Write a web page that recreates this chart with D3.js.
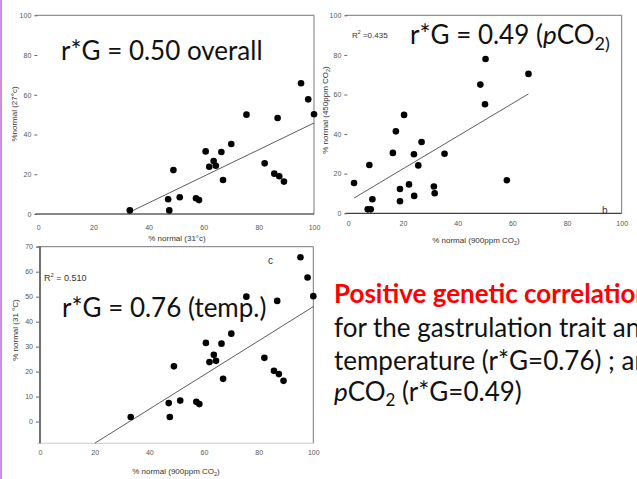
<!DOCTYPE html>
<html>
<head>
<meta charset="utf-8">
<script src="https://cdn.jsdelivr.net/npm/d3@7"></script>
<style>
  body { margin: 0; background: #fff; }
  svg { display: block; }
  .tick text { font-family: "Liberation Sans", Arial, sans-serif; font-size: 7px; fill: #555; }
  .title { font-family: "Liberation Sans", Arial, sans-serif; font-size: 8px; fill: #333; }
  .big { font-family: Lato, "Open Sans", sans-serif; fill: #111; }
</style>
</head>
<body>
<div id="chart"></div>
<script>
// % normal at 31°C vs 27°C (panel a) — same families reused in panel c
var temp31 = [33.2, 47.1, 47.5, 49.0, 51.3, 57.2, 58.3, 60.7, 62.0, 63.6, 64.4, 66.4,
              67.0, 70.0, 75.5, 82.1, 85.6, 86.8, 87.4, 89.1, 95.3, 97.9, 100];
var temp27 = [1.8, 7.4, 1.8, 22.1, 8.4, 7.9, 7.0, 31.5, 23.8, 26.7, 24.3, 31.2,
              17.1, 35.2, 50.0, 25.5, 20.3, 48.3, 19.0, 16.3, 65.8, 57.7, 50.2];

// % normal at 900ppm vs 450ppm CO2 (panel b)
var co2High = [2.1, 7.7, 7.1, 8.2, 8.8, 16.3, 17.4, 18.9, 18.9, 20.4, 22.2, 24.0,
               24.1, 25.6, 26.8, 31.3, 31.6, 35.2, 48.3, 50.2, 50.0, 58.0, 65.9];
var co2Low  = [15.3, 24.4, 2.0, 2.0, 7.1, 30.5, 41.4, 12.3, 6.1, 49.7, 14.6, 29.8,
               8.8, 24.2, 36.0, 13.5, 10.1, 30.1, 65.0, 77.9, 55.1, 16.7, 70.4];

// regression lines (end points)
var fitAX = [33.2, 100], fitAY = [1.0, 45.8];
var fitBX = [2.1, 65.9], fitBY = [7.7, 60.3];
var fitCX = [20, 100],   fitCY = [-8.7, 46];

var ticks100 = [0, 20, 40, 60, 80, 100];
var ticks70 = [0, 10, 20, 30, 40, 50, 60, 70];

var svg = d3.select("#chart").append("svg")
  .attr("width", 637)
  .attr("height", 479);

// pink slide edge
svg.append("line")
  .attr("x1", 1).attr("x2", 1).attr("y1", 0).attr("y2", 479)
  .attr("stroke", "#cf8fe0").attr("stroke-width", 2);

function drawPanel(p) {
  var x = d3.scaleLinear().domain(p.xDomain).range([p.left, p.right]);
  var y = d3.scaleLinear().domain(p.yDomain).range([p.bottom, p.top]);
  var g = svg.append("g");

  // frame: top + right gray
  g.append("line")
    .attr("x1", p.left - 3).attr("x2", p.right).attr("y1", p.top).attr("y2", p.top)
    .attr("stroke", "#777").attr("stroke-width", 1);
  g.append("line")
    .attr("x1", p.right).attr("x2", p.right).attr("y1", p.top).attr("y2", p.bottom)
    .attr("stroke", "#777").attr("stroke-width", 1);
  g.append("line")
    .attr("x1", p.left - 3).attr("x2", p.right).attr("y1", p.bottom).attr("y2", p.bottom)
    .attr("stroke", p.bottomColor).attr("stroke-width", 1);
  if (p.leftLine) {
    g.append("line")
      .attr("x1", p.left).attr("x2", p.left).attr("y1", p.top).attr("y2", p.bottom)
      .attr("stroke", "#111").attr("stroke-width", 1.2);
  }

  var yAxis = g.append("g")
    .attr("transform", "translate(" + (p.left - 1) + ",0)")
    .call(d3.axisLeft(y).tickValues(p.yTicks).tickSize(3).tickPadding(3));
  yAxis.select(".domain").remove();
  yAxis.selectAll(".tick line").attr("stroke", "#666");

  var xAxis = g.append("g")
    .attr("transform", "translate(0," + p.bottom + ")")
    .call(d3.axisBottom(x).tickValues(ticks100).tickSize(0).tickPadding(p.xPad));
  xAxis.select(".domain").remove();

  // axis titles
  var xt = g.append("text").attr("class", "title")
    .attr("x", p.xTitlePos[0]).attr("y", p.xTitlePos[1])
    .attr("text-anchor", "middle");
  addTitle(xt, p.xTitle);
  var yt = g.append("text").attr("class", "title")
    .attr("transform", "translate(" + p.yTitlePos[0] + "," + p.yTitlePos[1] + ") rotate(-90)")
    .attr("text-anchor", "middle");
  addTitle(yt, p.yTitle);

  // regression line
  var fit = p.fitX.map(function(v, i) { return [v, p.fitY[i]]; });
  g.append("path")
    .datum(fit)
    .attr("d", d3.line().x(function(d) { return x(d[0]); }).y(function(d) { return y(d[1]); }))
    .attr("stroke", "#333").attr("stroke-width", 0.8).attr("fill", "none");

  g.selectAll("circle.pt")
    .data(p.xs)
    .enter()
    .append("circle")
      .attr("class", "pt")
      .attr("cx", function(d) { return x(d); })
      .attr("cy", function(d, i) { return y(p.ys[i]); })
      .attr("r", 3.3)
      .attr("fill", "#000");
}

// title pieces: [text, sub?]
function addTitle(sel, parts) {
  parts.forEach(function(part) {
    var t = sel.append("tspan").text(part[0]);
    if (part[1] === "sub") t.attr("font-size", "5.5px").attr("dy", 2);
    if (part[1] === "back") t.attr("dy", -2);
  });
}

drawPanel({
  xs: temp31, ys: temp27, fitX: fitAX, fitY: fitAY,
  xDomain: [0, 100], yDomain: [0, 100], yTicks: ticks100,
  left: 38.3, right: 314, top: 15.3, bottom: 214,
  bottomColor: "#111", leftLine: false, xPad: 11,
  xTitle: [["% normal (31°c)"]], xTitlePos: [177, 241],
  yTitle: [["%normal (27°c)"]], yTitlePos: [17, 114]
});

drawPanel({
  xs: co2High, ys: co2Low, fitX: fitBX, fitY: fitBY,
  xDomain: [0, 100], yDomain: [0, 100], yTicks: ticks100,
  left: 348.3, right: 621.7, top: 15.3, bottom: 213.3,
  bottomColor: "#111", leftLine: false, xPad: 8,
  xTitle: [["% normal (900ppm CO"], ["2", "sub"], [")", "back"]], xTitlePos: [476, 243],
  yTitle: [["% normal (450ppm CO"], ["2", "sub"], [")", "back"]], yTitlePos: [328, 110]
});

drawPanel({
  xs: temp31, ys: temp27, fitX: fitCX, fitY: fitCY,
  xDomain: [0, 100], yDomain: [-8.7, 70], yTicks: ticks70,
  left: 40, right: 313.3, top: 246.7, bottom: 443.3,
  bottomColor: "#ccc", leftLine: true, xPad: 7,
  xTitle: [["% normal (900ppm CO"], ["2", "sub"], [")", "back"]], xTitlePos: [176, 474],
  yTitle: [["% normal (31 °C)"]], yTitlePos: [18, 330]
});

// annotations
function small(x, y, parts, size) {
  var t = svg.append("text").attr("class", "title")
    .attr("x", x).attr("y", y).style("font-size", size + "px");
  parts.forEach(function(part) {
    var s = t.append("tspan").text(part[0]);
    if (part[1] === "sup") s.attr("font-size", (size * 0.65) + "px").attr("dy", -4);
    if (part[1] === "back") s.attr("dy", 4);
  });
}
small(44, 281, [["R"], ["2", "sup"], [" = 0.510", "back"]], 9);
small(352, 38, [["R"], ["2", "sup"], [" =0.435", "back"]], 8);
small(268, 264, [["c"]], 10);
small(602, 214, [["b"]], 10);

svg.append("text").attr("class", "big")
  .attr("x", 61).attr("y", 59.5).style("font-size", "26px")
  .text("r*G = 0.50 overall");

var bt = svg.append("text").attr("class", "big")
  .attr("x", 410).attr("y", 43.5).style("font-size", "26px");
bt.append("tspan").text("r*G = 0.49  (");
bt.append("tspan").text("p").style("font-style", "italic");
bt.append("tspan").text("CO");
bt.append("tspan").text("2)").style("font-size", "18px").attr("dy", 6);

svg.append("text").attr("class", "big")
  .attr("x", 62).attr("y", 316.5).style("font-size", "26px")
  .text("r*G = 0.76 (temp.)");

// right-hand text block (runs off the right edge, as on the slide)
var lines = svg.append("g").style("font-family", "Lato, 'Open Sans', sans-serif").style("font-size", "26px");
lines.append("text").attr("x", 334).attr("y", 303)
  .attr("fill", "#ff0000").attr("font-weight", "bold")
  .text("Positive genetic correlations");
lines.append("text").attr("x", 334).attr("y", 337).attr("fill", "#111")
  .text("for the gastrulation trait and");
lines.append("text").attr("x", 334).attr("y", 370).attr("fill", "#111")
  .text("temperature (r*G=0.76) ; and");
var l4 = lines.append("text").attr("x", 334).attr("y", 401).attr("fill", "#111");
l4.append("tspan").text("p").style("font-style", "italic");
l4.append("tspan").text("CO");
l4.append("tspan").text("2").style("font-size", "17px").attr("dy", 5);
l4.append("tspan").text(" (r*G=0.49)").attr("dy", -5);
</script>
</body>
</html>
